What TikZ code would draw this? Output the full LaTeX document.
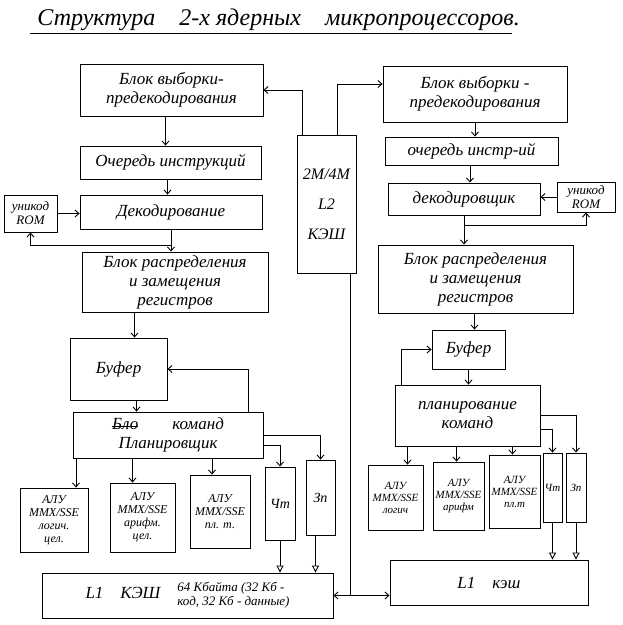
\documentclass[tikz,border=0pt]{standalone}
\usepackage{fontspec}
\setmainfont{Liberation Serif}
\usetikzlibrary{arrows.meta}
\newcommand{\zacherk}[1]{\setbox0\hbox{#1}\rlap{\raisebox{0.35ex}{\rule{\wd0}{0.8pt}}}\box0}

\begin{document}
\begin{tikzpicture}[x=1pt,y=-1pt,line width=0.9pt,
  >={Straight Barb[length=4pt,width=7pt]},
  box/.style={draw,inner sep=1pt,align=center,font=\fontsize{17}{19}\selectfont\itshape},
  rombox/.style={box,font=\fontsize{13}{14}\selectfont\itshape},
  alubox/.style={box,font=\fontsize{12}{13}\selectfont\itshape},
  alusmall/.style={box,font=\fontsize{11}{12}\selectfont\itshape},
  tol1/.style={-{Triangle[open,length=7pt,width=7pt]}}]
  \useasboundingbox (0,0) rectangle (623,625);

  \node[anchor=base west,inner sep=0pt,font=\fontsize{24}{26}\selectfont\itshape] (title) at (37,25)
    {Структура\quad 2-х ядерных\quad микропроцессоров.};
  \draw ([xshift=-7,yshift=-8]title.base west) -- ([xshift=-8,yshift=-8]title.base east);

%%% первое ядро
  \node[box,minimum width=183,minimum height=52] (fetchL) at (171.5,90) {Блок выборки-\\предекодирования};
  \node[box,minimum width=181,minimum height=33] (queueL) at (170.5,162.5) {Очередь инструкций};
  \node[box,minimum width=182,minimum height=34] (decL) at (171,212) {Декодирование};
  \node[rombox,minimum width=53,minimum height=37] (romL) at (30.5,213.5) {уникод\\ROM};
  \node[box,minimum width=186,minimum height=60] (regL) at (175,282) {Блок распределения\\и замещения\\регистров};
  \node[box,minimum width=97,minimum height=62] (bufL) at (118.5,369) {Буфер};
  \node[box,minimum width=190,minimum height=46] (schL) at (168,435) {\zacherk{Бло}\hspace{2em}команд\\Планировщик};
  \node[alubox,minimum width=68,minimum height=64] (alu1L) at (54,520) {АЛУ\\MMX/SSE\\логич.\\цел.};
  \node[alubox,minimum width=65,minimum height=69] (alu2L) at (142.5,517.5) {АЛУ\\MMX/SSE\\арифм.\\цел.};
  \node[alubox,minimum width=60,minimum height=73] (alu3L) at (220,511.5) {АЛУ\\MMX/SSE\\пл. т.};
  \node[box,font=\fontsize{14}{15}\selectfont\itshape,minimum width=30,minimum height=73] (rdL) at (280,503.5) {Чт};
  \node[box,font=\fontsize{14}{15}\selectfont\itshape,minimum width=29,minimum height=75] (wrL) at (320.5,497.5) {Зп};
  \node[box,minimum width=291,minimum height=45] (l1L) at (187.5,595.5)
    {L1\quad КЭШ\quad{\fontsize{13}{14}\selectfont\begin{tabular}{@{}l@{}}64 Кбайта (32 Кб -\\код, 32 Кб - данные)\end{tabular}}};

%%% L2
  \node[box,font=\fontsize{16}{30}\selectfont\itshape,minimum width=59,minimum height=138] (l2) at (326.5,204) {2M/4M\\L2\\КЭШ};

%%% второе ядро
  \node[box,minimum width=184,minimum height=56] (fetchR) at (475,94) {Блок выборки -\\предекодирования};
  \node[box,minimum width=173,minimum height=28] (queueR) at (471.5,151) {очередь инстр-ий};
  \node[box,minimum width=152,minimum height=32] (decR) at (464,199) {декодировщик};
  \node[rombox,minimum width=58,minimum height=30] (romR) at (586,197) {уникод\\ROM};
  \node[box,minimum width=195,minimum height=68] (regR) at (475.5,279) {Блок распределения\\и замещения\\регистров};
  \node[box,minimum width=73,minimum height=39] (bufR) at (468.5,349.5) {Буфер};
  \node[box,minimum width=145,minimum height=61] (schR) at (467.5,415.5) {планирование\\команд};
  \node[alusmall,minimum width=55,minimum height=65] (alu1R) at (395.5,497.5) {АЛУ\\MMX/SSE\\логич};
  \node[alusmall,minimum width=51,minimum height=68] (alu2R) at (458.5,496) {АЛУ\\MMX/SSE\\арифм};
  \node[alusmall,minimum width=51,minimum height=73] (alu3R) at (514.5,491.5) {АЛУ\\MMX/SSE\\пл.т};
  \node[alusmall,minimum width=19,minimum height=69] (rdR) at (552.5,487.5) {Чт};
  \node[alusmall,minimum width=20,minimum height=69] (wrR) at (576,487.5) {Зп};
  \node[box,minimum width=198,minimum height=45] (l1R) at (489,582.5) {L1\quad кэш};

%%% связи первого ядра
  \draw[->] ([xshift=-6]fetchL.south) -- ([xshift=-6]fetchL.south |- queueL.north);
  \draw[->] ([xshift=-3]queueL.south) -- ([xshift=-3]queueL.south |- decL.north);
  \coordinate (brL) at ([yshift=-16]decL.south);
  \draw[->] (decL.south) -- (decL.south |- regL.north);
  \draw[->] (brL) -| (romL.south);
  \draw[->] (romL.east) -- (romL.east -| decL.west);
  \draw[->] ([xshift=16]bufL.north |- regL.south) -- ([xshift=16]bufL.north);
  \draw[->] ([xshift=18]bufL.south) -- ([xshift=18]bufL.south |- schL.north);
  \draw[->] ([xshift=-15]schL.north east) |- (bufL.east);
  \draw[->] (schL.east) -| (wrL.north);
  \draw[->] ([yshift=-10]schL.east) -| (rdL.north);
  \foreach \n/\s in {alu1L/22,alu2L/-10,alu3L/-8}
    \draw[->] ([xshift=\s]\n.north |- schL.south) -- ([xshift=\s]\n.north);
  \draw[tol1] (rdL.south) -- (rdL.south |- l1L.north);
  \draw[tol1] ([xshift=-5]wrL.south) -- ([xshift=-5]wrL.south |- l1L.north);

%%% связи L2
  \draw[->] ([xshift=-24]l2.north) |- (fetchL.east);
  \draw[->] ([xshift=11]l2.north) |- ([yshift=10]fetchR.west);
  \draw ([xshift=24]l2.south) -- ([xshift=24]l2.south |- l1L.east);
  \draw[<->] (l1L.east) -- (l1L.east -| l1R.west);

%%% связи второго ядра
  \draw[->] (fetchR.south) -- (fetchR.south |- queueR.north);
  \draw[->] ([xshift=6]decR.north |- queueR.south) -- ([xshift=6]decR.north);
  \coordinate (brR) at ([yshift=-10]decR.south);
  \draw[->] (decR.south) -- (decR.south |- regR.north);
  \draw[->] (brR) -| (romR.south);
  \draw[->] (romR.west) -- (romR.west -| decR.east);
  \draw[->] ([xshift=6]bufR.north |- regR.south) -- ([xshift=6]bufR.north);
  \draw[->] (bufR.south) -- (bufR.south |- schR.north);
  \draw[->] ([xshift=7]schR.north west) |- (bufR.west);
  \draw[->] (schR.east) -| (wrR.north);
  \draw[->] ([yshift=-14]schR.east) -| (rdR.north);
  \foreach \n/\s in {alu1R/12,alu2R/-2,alu3R/-2}
    \draw[->] ([xshift=\s]\n.north |- schR.south) -- ([xshift=\s]\n.north);
  \draw[tol1] (rdR.south) -- (rdR.south |- l1R.north);
  \draw[tol1] (wrR.south) -- (wrR.south |- l1R.north);
\end{tikzpicture}
\end{document}
